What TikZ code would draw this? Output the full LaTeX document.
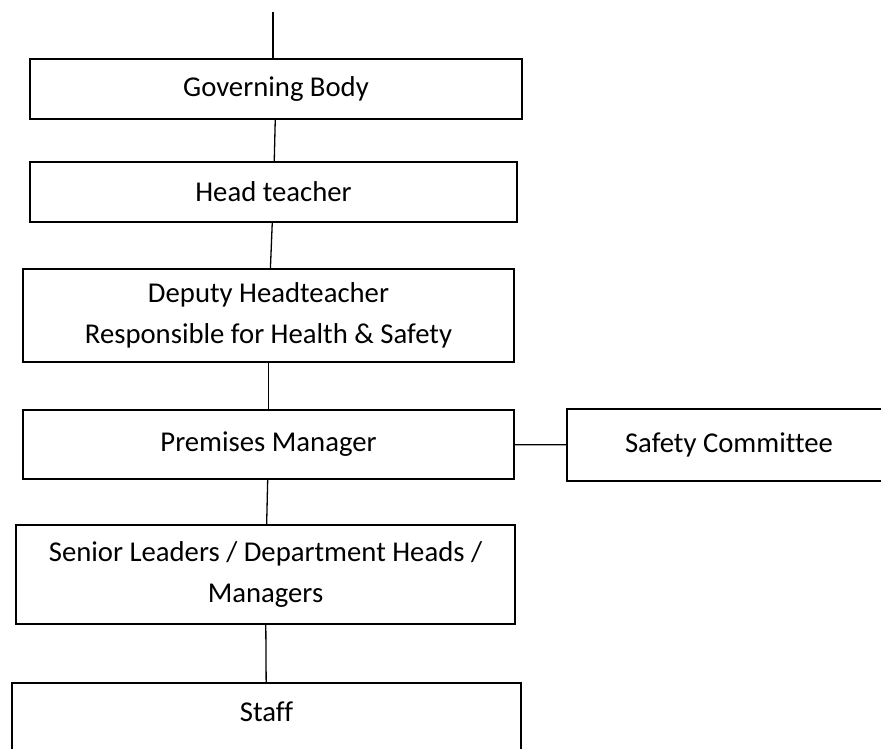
\documentclass[tikz,border=0pt]{standalone}
\usepackage{fontspec}
\setmainfont{Carlito}[Ligatures=CommonOff]
\usepackage{tikz}
\tikzset{
orgbox/.style={
  draw=black,
  line width=1.5pt,
  rectangle,
  align=center,
  inner sep=0pt,
  font=\fontsize{28.7}{41}\selectfont
  },
orgline/.style={
  draw=black,
  line width=1.3pt
  }
}

\begin{document}
\begin{tikzpicture}[x=1pt,y=-1pt]

\useasboundingbox (0,0) rectangle (881,749);

\node[orgbox,minimum width=492pt,minimum height=60pt]
at (276,89) 
(gov)
{Governing Body};

\node[orgbox,minimum width=487pt,minimum height=60pt]
at (273.5,192) 
(head)
{Head teacher};

\node[orgbox,minimum width=491pt,minimum height=93pt]
at (268.5,315.5) 
(deputy)
{Deputy Headteacher\\ Responsible for Health \& Safety};

\node[orgbox,minimum width=491pt,minimum height=69pt]
at (268.5,444.5) 
(premises)
{Premises Manager};

% box runs off the right edge of the page
\node[orgbox,minimum width=360pt,minimum height=72pt]
at (747,445) 
(safety)
{Safety Committee\hspace{36pt}};

\node[orgbox,minimum width=499pt,minimum height=99pt]
at (265.5,574.5) 
(senior)
{Senior Leaders / Department Heads /\\ Managers};

% box runs off the bottom of the page
\node[orgbox,minimum width=509pt,anchor=north,
      text height=39pt,text depth=70pt]
at (266.5,682) 
(staff)
{Staff};

\coordinate (top) at (273,12);

\draw[orgline] (top) -- (top |- gov.north);
\draw[orgline] (gov) -- (head);
\draw[orgline] (head) -- (deputy);
\draw[orgline] (deputy) -- (premises);
\draw[orgline] (premises) -- (safety);
\draw[orgline] (premises) -- (senior);
\draw[orgline] (senior) -- (staff);

\end{tikzpicture}
\end{document}
